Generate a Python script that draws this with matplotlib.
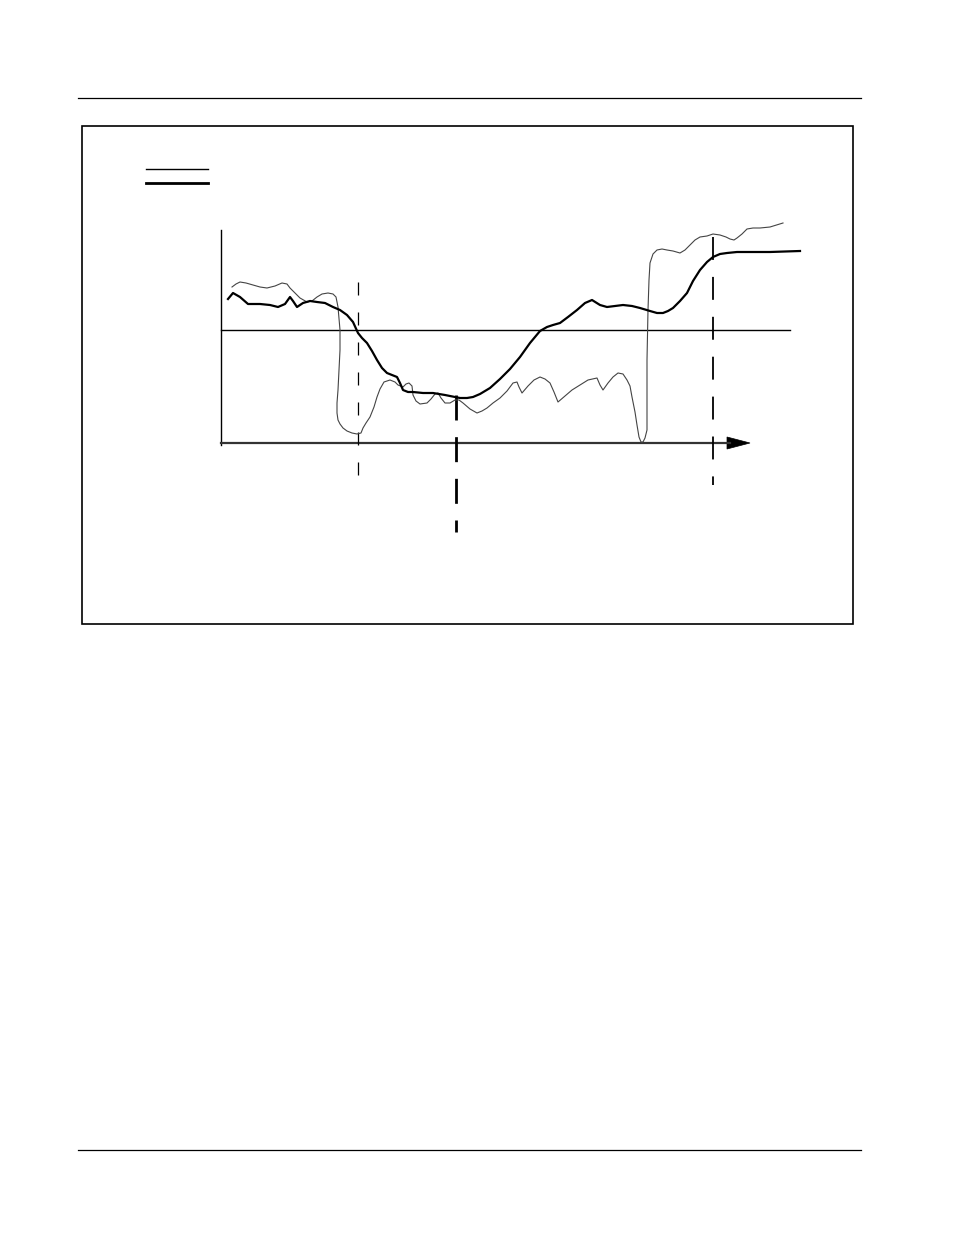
import matplotlib
matplotlib.use("Agg")
import matplotlib.pyplot as plt
from matplotlib.patches import Polygon, Rectangle

# page positions in pixels (y grows downwards)
smooth_x = [228, 233, 240, 248, 260, 270, 278, 285, 290, 293, 297, 303, 310, 317, 325,
            333, 340, 347, 353, 358, 362, 367, 372, 377, 382, 387, 392, 397, 400, 403,
            408, 413, 423, 433, 445, 460, 467, 473, 480, 490, 500, 510, 520, 530, 540,
            547, 553, 560, 568, 577, 585, 592, 600, 607, 615, 623, 632, 640, 650, 657,
            663, 668, 673, 680, 687, 693, 700, 707, 713, 720, 727, 737, 747, 770, 800]
smooth_y = [299, 293, 297, 304, 304, 305, 307, 304, 297, 301, 307, 303, 301, 302, 303,
            307, 310, 315, 322, 333, 338, 343, 351, 360, 368, 373, 375, 377, 383, 390,
            392, 392, 393, 393, 395, 398, 398, 397, 394, 388, 379, 369, 357, 343, 331,
            327, 325, 323, 317, 310, 303, 300, 305, 307, 306, 305, 306, 308, 311, 313,
            313, 311, 308, 301, 293, 281, 270, 262, 257, 254, 253, 252, 252, 252, 251]

raw_x = [232, 236, 240, 246, 253, 260, 267, 275, 282, 287, 290, 295, 300, 307, 312,
         317, 322, 328, 333, 336, 338, 340, 340, 339, 338, 337, 337, 338, 340, 343,
         347, 352, 357, 361, 363, 366, 370, 374, 377, 380, 384, 390, 395, 398, 403,
         406, 409, 412, 413, 416, 420, 427, 431, 435, 438, 441, 445, 450, 455, 459,
         463, 470, 477, 482, 487, 493, 500, 507, 513, 517, 519, 522, 528, 534, 540,
         545, 550, 554, 558, 565, 572, 580, 588, 597, 600, 603, 608, 613, 618, 623,
         627, 630, 632, 635, 637, 639, 641, 643, 645, 647, 647, 647, 648, 649, 650,
         653, 657, 662, 667, 673, 680, 685, 690, 695, 700, 707, 713, 720, 726, 730,
         734, 737, 742, 747, 753, 760, 770, 783]
raw_y = [287, 284, 282, 283, 285, 287, 288, 286, 283, 284, 288, 293, 298, 302, 301,
         297, 294, 293, 294, 297, 307, 330, 350, 370, 390, 403, 413, 420, 424, 428,
         431, 433, 434, 433, 428, 423, 417, 407, 397, 389, 382, 380, 382, 385, 387,
         384, 383, 386, 395, 401, 404, 403, 399, 394, 393, 398, 403, 403, 400, 400,
         403, 409, 413, 411, 408, 403, 398, 391, 383, 382, 387, 393, 386, 380, 377,
         379, 383, 392, 402, 396, 390, 385, 380, 378, 385, 390, 383, 377, 373, 374,
         380, 386, 397, 412, 425, 437, 442, 442, 438, 430, 400, 360, 310, 280, 263,
         254, 250, 249, 250, 251, 253, 250, 245, 240, 237, 236, 234, 235, 237, 239,
         240, 238, 234, 229, 228, 228, 227, 223]

W, H = 954, 1235
fig = plt.figure(figsize=(W / 100, H / 100), dpi=100)
ax = fig.add_axes([0, 0, 1, 1])
ax.set_xlim(0, W)
ax.set_ylim(H, 0)
ax.axis("off")

# page header and footer rules
ax.plot([78, 861], [98, 98], color="black", lw=0.9)
ax.plot([78, 861], [1150, 1150], color="black", lw=0.9)

# figure frame
ax.add_patch(Rectangle((82, 126), 771, 498, fill=False, ec="black", lw=1.2))

# legend swatches
ax.plot([146, 208], [169, 169], color="black", lw=1.0)
ax.plot([146, 208], [183, 183], color="black", lw=2.0)

# axes
ax.plot([221, 221], [230, 445], color="black", lw=1.0)
ax.plot([221, 730], [443, 443], color="#333333", lw=1.6)
ax.add_patch(Polygon([[727, 437], [750, 443], [727, 449]], closed=True,
                     fc="black", ec="black", lw=0.5))

# threshold line
ax.plot([221, 790], [330, 330], color="black", lw=1.0)

# dashed time markers
ax.plot([358, 358], [282, 490], color="black", lw=0.9, dashes=(10.4, 13.6))
ax.plot([456, 456], [395, 532], color="black", lw=2.0, dashes=(9, 6))
ax.plot([713, 713], [237, 485], color="black", lw=1.3, dashes=(12.7, 9.4))

# curves
ax.plot(raw_x, raw_y, color="#444444", lw=0.8, solid_joinstyle="round")
ax.plot(smooth_x, smooth_y, color="black", lw=1.6, solid_joinstyle="round")

fig.savefig("out.png", dpi=100)
